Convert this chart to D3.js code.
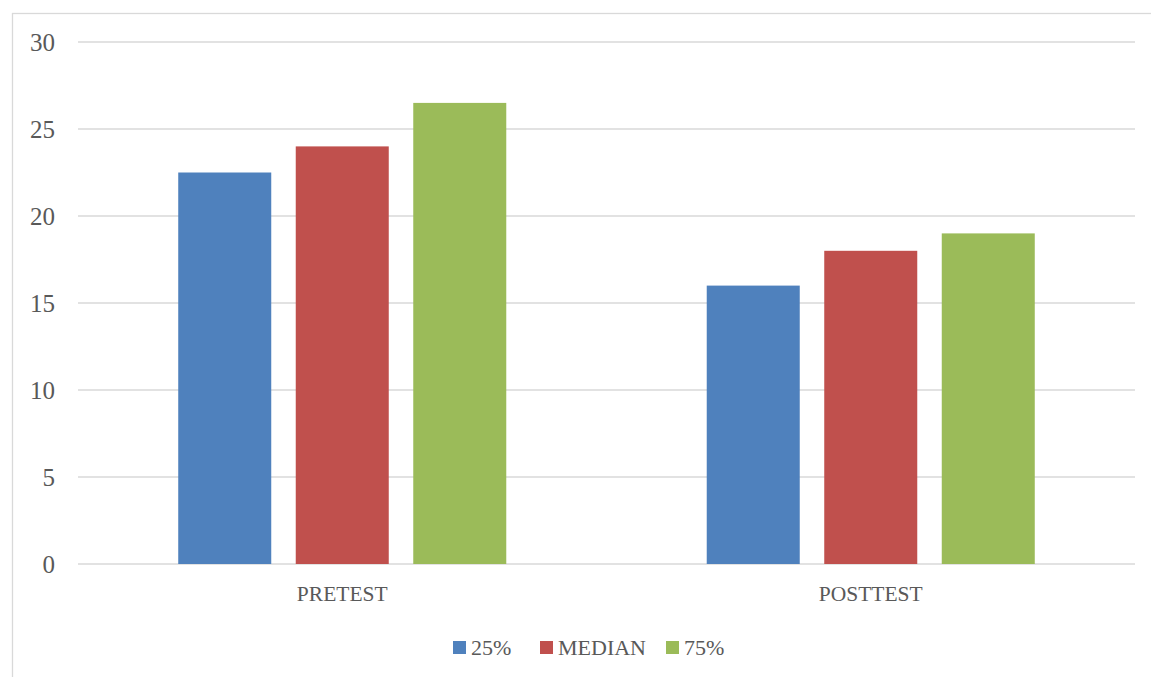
<!DOCTYPE html>
<html><head><meta charset="utf-8">
<script src="https://cdn.jsdelivr.net/npm/d3@7"></script>
<style>body{margin:0;background:#fff}svg{display:block}</style>
</head><body><svg id="c" width="1151" height="677"></svg>
<script>
const categories = ["PRETEST", "POSTTEST"];
const seriesNames = ["25%", "MEDIAN", "75%"];
const seriesColors = ["#4f81bd", "#c0504d", "#9bbb59"];
const values25 = [22.5, 16];
const valuesMedian = [24, 18];
const values75 = [26.5, 19];
const yTicks = [0, 5, 10, 15, 20, 25, 30];
const seriesValues = [values25, valuesMedian, values75];

const svg = d3.select("#c");
const font = "'Liberation Serif', 'DejaVu Serif', serif";
const txt = "#595959";
svg.append("rect").attr("x", 12.5).attr("y", 13.5).attr("width", 1150).attr("height", 680)
  .attr("fill", "none").attr("stroke", "#d9d9d9").attr("stroke-width", 1.3);

const m = {l: 78, r: 1135, t: 42, b: 564};
const y = d3.scaleLinear().domain([0, 30]).range([m.b, m.t]);
const x0 = d3.scaleBand().domain(categories).range([m.l, m.r]).paddingInner(0).paddingOuter(0);
const x1 = d3.scaleBand().domain(seriesNames).range([0, x0.bandwidth()]).paddingInner(0.2085).paddingOuter(0.853);

svg.append("g").selectAll("line").data(yTicks).join("line")
  .attr("x1", m.l).attr("x2", m.r).attr("y1", d => y(d)).attr("y2", d => y(d))
  .attr("stroke", "#d9d9d9").attr("stroke-width", 1.3);

const yAxis = d3.axisLeft(y).tickValues(yTicks).tickSize(0).tickPadding(0);
const ya = svg.append("g").attr("transform", "translate(55,0)").call(yAxis);
ya.select(".domain").remove();
ya.selectAll("text").attr("font-family", font).attr("font-size", 25).attr("fill", txt)
  .attr("text-anchor", "end").attr("dy", "0.33em");

categories.forEach((c, ci) => {
  seriesNames.forEach((s, si) => {
    const v = seriesValues[si][ci];
    svg.append("rect").attr("x", x0(c) + x1(s)).attr("width", x1.bandwidth())
      .attr("y", y(v)).attr("height", y(0) - y(v)).attr("fill", seriesColors[si]);
  });
});

const xAxis = d3.axisBottom(x0).tickSize(0).tickPadding(0);
const xa = svg.append("g").attr("transform", `translate(0,${601})`).call(xAxis);
xa.select(".domain").remove();
xa.selectAll("text").attr("y", 0).attr("dy", 0).attr("font-family", font).attr("font-size", 21.5).attr("fill", txt);

// legend
const legendX = [453, 540, 666];
const lg = svg.append("g");
seriesNames.forEach((s, i) => {
  lg.append("rect").attr("x", legendX[i]).attr("y", 641).attr("width", 13).attr("height", 13).attr("fill", seriesColors[i]);
  lg.append("text").attr("x", legendX[i] + 18).attr("y", 655).text(s)
    .attr("font-family", font).attr("font-size", 22).attr("fill", txt);
});
</script></body></html>
